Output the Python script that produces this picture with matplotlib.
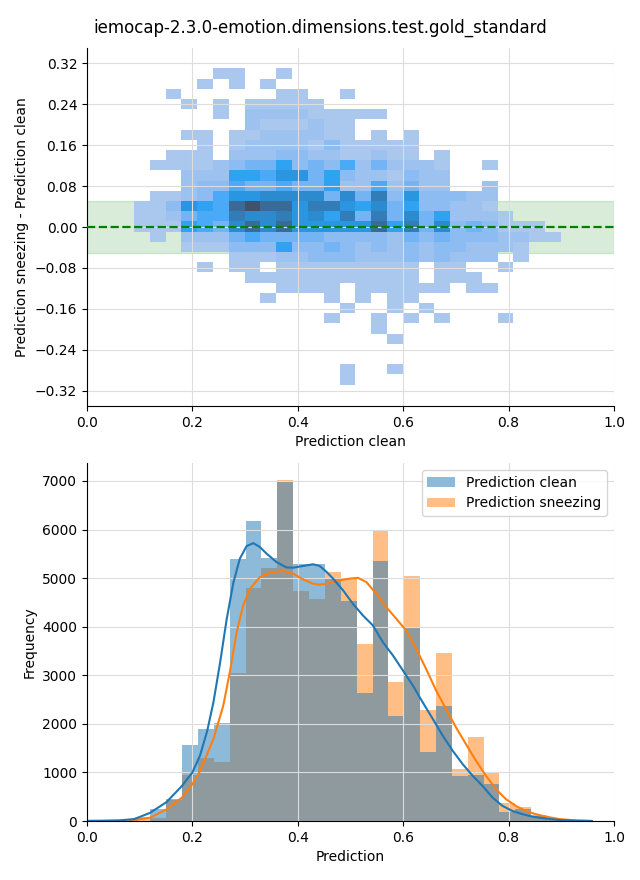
import numpy as np
import pandas as pd
import matplotlib
matplotlib.use("Agg")
import matplotlib.pyplot as plt
import seaborn as sns

title = "iemocap-2.3.0-emotion.dimensions.test.gold_standard"

# ---------------- top: 2-D histogram (x = prediction clean, y = difference)
x_bin_start, x_bin_width = 0.0892, 0.03     # 27 columns
y_bin_start, y_bin_width = -0.308, 0.01994  # 31 rows
# cell intensity codes, top row first ('.' = empty)
heat_rows = [
    ".....11..1.................",
    "....1.1.1..................",
    "..1......11..1.............",
    "...1.1.11111...............",
    ".....1.222211111...........",
    ".......2111211.............",
    "...11.11222211.1.1.........",
    "....1.122221311111.........",
    "..111.222332211211.1.......",
    ".1111234463435242221..1....",
    "...22266577463221322.......",
    "...23354454462252422..2....",
    ".1123577888848493733322....",
    "113765ACAA7997684633221....",
    "112455988978694948462221...",
    "1116548A8A77777A6948343111.",
    ".1.222454444333324343332211",
    "...1113336334323232332221..",
    "......11122333222323222.1..",
    "....1.11.111111111.11..1...",
    ".......11111111111.111.....",
    ".........1111.111111.11....",
    "........1...1.1.11.........",
    ".............1..1.1........",
    "............1..1.1.1...1...",
    "...............1...........",
    "................1..........",
    "...........................",
    "...........................",
    ".............1..1..........",
    ".............1.............",
]
level_counts = {"1": 1, "2": 6, "3": 12, "4": 19, "5": 29, "6": 36, "7": 46,
                "8": 56, "9": 66, "A": 81, "B": 91, "C": 101}

# ---------------- bottom: histograms of both predictions
hist_bin_start, hist_bin_width = 0.0, 0.0301
clean_counts = [2, 3, 10, 0, 240, 450, 1560, 1890, 2020, 5400, 6170, 5420,
                6970, 5300, 5300, 4990, 4535, 2640, 5360, 2160, 3990, 1420,
                2370, 920, 940, 760, 190, 240, 100, 30, 5, 2]
sneezing_counts = [1, 5, 20, 80, 60, 440, 950, 1290, 1210, 3050, 4800, 5200,
                   7030, 4740, 4580, 5130, 4990, 3650, 5960, 2860, 5040, 2280,
                   3460, 1070, 1730, 1000, 370, 280, 120, 20, 5, 2]
series_names = ["Prediction clean", "Prediction sneezing"]

# density curves (scaled to counts)
kde_clean_x = [0.0, 0.03, 0.06, 0.09, 0.12, 0.151, 0.18, 0.2, 0.2145, 0.228,
               0.24, 0.2524, 0.265, 0.2776, 0.29, 0.3028, 0.3155, 0.328,
               0.3407, 0.3596, 0.3785, 0.3912, 0.41, 0.429, 0.4416, 0.4543,
               0.4669, 0.4858, 0.5047, 0.5237, 0.5426, 0.5615, 0.5804, 0.5994,
               0.6183, 0.6372, 0.6562, 0.6751, 0.694, 0.7129, 0.7319, 0.7508,
               0.7697, 0.7886, 0.8076, 0.8265, 0.8454, 0.8707, 0.896, 0.93,
               0.958]
kde_clean_y = [2, 5, 12, 40, 170, 390, 720, 1000, 1350, 1850, 2450, 3250, 4150,
               4900, 5400, 5660, 5720, 5640, 5505, 5330, 5220, 5215, 5250,
               5285, 5250, 5130, 4990, 4750, 4470, 4230, 4025, 3680, 3410,
               3100, 2790, 2440, 2100, 1755, 1445, 1170, 930, 720, 480, 310,
               205, 140, 90, 50, 20, 6, 1]
kde_sneezing_x = [0.0, 0.03, 0.06, 0.088, 0.12, 0.151, 0.18, 0.2, 0.2145,
                  0.24, 0.2587, 0.2713, 0.2839, 0.2965, 0.3091, 0.328, 0.347,
                  0.3722, 0.3912, 0.41, 0.429, 0.4416, 0.4606, 0.4795, 0.4984,
                  0.5142, 0.53, 0.5489, 0.5678, 0.5868, 0.6057, 0.6246, 0.6435,
                  0.6625, 0.6814, 0.7003, 0.7192, 0.7382, 0.7571, 0.776, 0.795,
                  0.8139, 0.8328, 0.8517, 0.8707, 0.896, 0.93, 0.958]
kde_sneezing_y = [1, 3, 6, 14, 70, 240, 480, 760, 1030, 1690, 2380, 3080,
                  3880, 4440, 4780, 5020, 5110, 5150, 5090, 4975, 4885, 4865,
                  4900, 4955, 4990, 5005, 4920, 4680, 4405, 4165, 3920, 3545,
                  3130, 2685, 2305, 1925, 1580, 1240, 930, 655, 450, 310, 205,
                  140, 90, 40, 10, 1]

# ---------------- build data frames
n_rows = len(heat_rows)
n_cols = len(heat_rows[0])
x_edges = x_bin_start + x_bin_width * np.arange(n_cols + 1)
y_edges = y_bin_start + y_bin_width * np.arange(n_rows + 1)
xs, ys, ws = [], [], []
for r, row in enumerate(heat_rows):
    yc = y_edges[n_rows - r - 1] + y_bin_width / 2
    for c, ch in enumerate(row):
        if ch != ".":
            xs.append(x_edges[c] + x_bin_width / 2)
            ys.append(yc)
            ws.append(level_counts[ch])

nb = len(clean_counts)
h_edges = hist_bin_start + hist_bin_width * np.arange(nb + 1)
h_centers = (h_edges[:-1] + h_edges[1:]) / 2
df = pd.DataFrame({
    "Prediction": np.concatenate([h_centers, h_centers]),
    "count": np.concatenate([clean_counts, sneezing_counts]).astype(float),
    "kind": [series_names[0]] * nb + [series_names[1]] * nb,
})

fig = plt.figure(figsize=(6.4, 8.8), dpi=100)
ax1 = fig.add_axes([87 / 640, 1 - 406 / 880, 527 / 640, 358 / 880])
ax2 = fig.add_axes([87 / 640, 1 - 821 / 880, 527 / 640, 358 / 880])

ax1.axhspan(-0.05, 0.05, color="green", alpha=0.15, zorder=0.5)
sns.histplot(x=xs, y=ys, weights=ws, bins=[list(x_edges), list(y_edges)], ax=ax1)
ax1.axhline(0, color="green", ls="--", lw=1.6, zorder=3)
ax1.set_xlim(0, 1)
ax1.set_ylim(-0.35, 0.35)
ax1.set_yticks(np.arange(-0.32, 0.321, 0.08))
ax1.set_xlabel("Prediction clean")
ax1.set_ylabel("Prediction sneezing - Prediction clean")
ax1.grid(True, color="#dddddd", lw=0.8)
sns.despine(ax=ax1)

sns.histplot(data=df, x="Prediction", hue="kind", weights="count",
             bins=list(h_edges), hue_order=series_names, ax=ax2, linewidth=0)
ax2.plot(kde_sneezing_x, kde_sneezing_y, color="C1", lw=1.5)
ax2.plot(kde_clean_x, kde_clean_y, color="C0", lw=1.5)
ax2.set_xlim(0, 1)
ax2.set_ylim(0, 7370)
ax2.set_ylabel("Frequency")
ax2.set_xlabel("Prediction")
ax2.grid(True, color="#dddddd", lw=0.8)
sns.move_legend(ax2, "upper right", title=None)
sns.despine(ax=ax2)

fig.suptitle(title, x=0.5, y=0.979, fontsize=12)
fig.savefig("out.png", dpi=100)
